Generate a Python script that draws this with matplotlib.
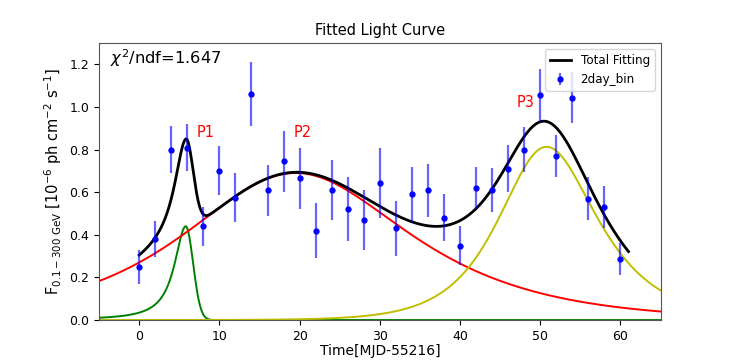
import numpy as np
import matplotlib
matplotlib.use("Agg")
import matplotlib.pyplot as plt

# 2-day binned light curve
t_bin = [0, 2, 4, 6, 8, 10, 12, 14, 16, 18, 20, 22, 24, 26, 28, 30,
         32, 34, 36, 38, 40, 42, 44, 46, 48, 50, 52, 54, 56, 58, 60]
flux = [0.25, 0.38, 0.80, 0.81, 0.44, 0.70, 0.575, 1.06, 0.61, 0.745, 0.665,
        0.42, 0.61, 0.52, 0.47, 0.645, 0.43, 0.59, 0.61, 0.48, 0.35,
        0.62, 0.61, 0.71, 0.80, 1.055, 0.77, 1.045, 0.57, 0.53, 0.285]
flux_err = [0.08, 0.085, 0.11, 0.11, 0.09, 0.115, 0.115, 0.15, 0.12, 0.145, 0.145,
            0.13, 0.14, 0.15, 0.14, 0.165, 0.13, 0.13, 0.125, 0.11, 0.09,
            0.10, 0.105, 0.11, 0.107, 0.125, 0.10, 0.12, 0.10, 0.10, 0.075]

# fitted flare components (peak time, amplitude, rise / decay widths)
peak_names = ["P1", "P2", "P3"]
peak_shape = ["lorentz-gauss", "exp", "exp"]
peak_t0 = [5.8, 19.0, 50.3]
peak_F0 = [0.44, 0.69, 0.81]
peak_Tr = [1.7, 12.0, 5.0]
peak_Td = [0.92, 13.0, 6.0]
peak_colors = ["green", "red", "y"]
label_pos = [(7.2, 0.86), (19.2, 0.86), (47.0, 1.0)]
chi2_ndf = 1.647


def flare(t, shape, t0, F0, Tr, Td):
    if shape == "exp":
        return 2 * F0 / (np.exp((t0 - t) / Tr) + np.exp((t - t0) / Td))
    u = t - t0
    return np.where(u < 0, F0 / (1 + (u / Tr) ** 2), F0 * np.exp(-u ** 2 / (2 * Td ** 2)))


fig, ax = plt.subplots(figsize=(7.34, 3.6), dpi=100)
fig.subplots_adjust(left=0.135, right=0.9, top=0.88, bottom=0.111)

t = np.linspace(-5, 65, 1400)
for i in range(3):
    ax.plot(t, flare(t, peak_shape[i], peak_t0[i], peak_F0[i], peak_Tr[i], peak_Td[i]),
            color=peak_colors[i], lw=1.4)

t_tot = np.linspace(0, 61, 1000)
total = sum(flare(t_tot, peak_shape[i], peak_t0[i], peak_F0[i], peak_Tr[i], peak_Td[i])
            for i in range(3))
ax.plot(t_tot, total, color="black", lw=2, label="Total Fitting")

ax.errorbar(t_bin, flux, yerr=flux_err, fmt="o", color="blue", ms=3.5,
            ecolor=(0, 0, 1, 0.6), elinewidth=1.6, label="2day_bin")

for name, (x, y) in zip(peak_names, label_pos):
    ax.text(x, y, name, color="red", fontsize=10.5)

ax.text(0.02, 0.985, r"$\chi^2$/ndf=%.3f" % chi2_ndf, transform=ax.transAxes,
        fontsize=11.7, va="top", ha="left")

ax.set_xlim(-5, 65)
ax.set_ylim(0, 1.3)
ax.set_xticks([0, 10, 20, 30, 40, 50, 60])
ax.set_yticks([0.0, 0.2, 0.4, 0.6, 0.8, 1.0, 1.2])
ax.tick_params(labelsize=9)
ax.set_xlabel("Time[MJD-55216]", fontsize=10, labelpad=1)
ax.set_ylabel(r"F$_{0.1-300\ \rm GeV}$ [10$^{-6}$ ph cm$^{-2}$ s$^{-1}$]", fontsize=10.5)
ax.set_title("Fitted Light Curve", fontsize=10.5)
for s in ax.spines.values():
    s.set_color("#555555")
ax.legend(loc="upper right", fontsize=8.6, handlelength=1.8)

fig.savefig("out.png")
